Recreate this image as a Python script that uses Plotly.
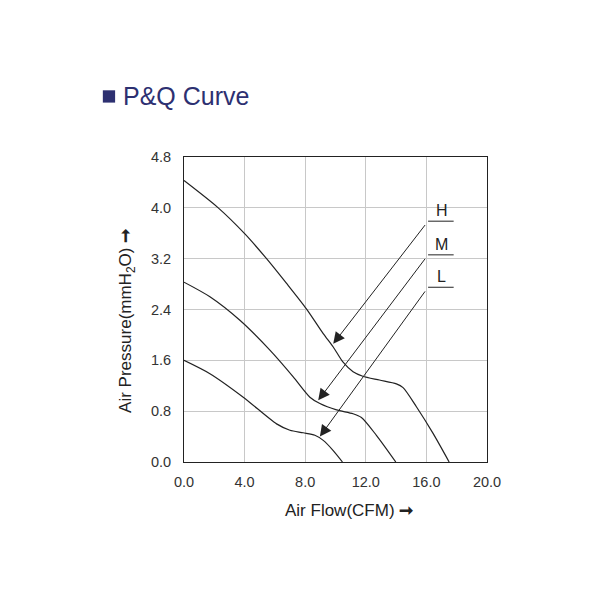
import plotly.graph_objects as go

# ---- data ----
h_x = [0.0, 2.26, 4.02, 5.45, 6.77, 8.08, 9.19, 9.85, 10.5, 11.16, 11.8, 12.9, 14.02, 14.46, 15.34, 16.44, 17.5]
h_y = [4.43, 4.00, 3.59, 3.20, 2.81, 2.41, 2.02, 1.81, 1.57, 1.42, 1.35, 1.29, 1.23, 1.17, 0.87, 0.45, 0.0]

m_x = [0.0, 1.71, 3.69, 5.67, 7.21, 8.31, 8.97, 10.07, 11.16, 11.71, 12.7, 13.98]
m_y = [2.83, 2.60, 2.23, 1.76, 1.34, 1.02, 0.92, 0.82, 0.76, 0.70, 0.42, 0.0]

l_x = [0.0, 1.71, 3.91, 6.11, 6.99, 7.87, 8.64, 9.19, 9.85, 10.46]
l_y = [1.60, 1.39, 1.02, 0.60, 0.50, 0.46, 0.42, 0.34, 0.18, 0.0]

labels = ["H", "M", "L"]
label_corner_x = [16.11, 16.11, 16.11]
label_end_x = [17.8, 17.8, 17.8]
label_y = [3.79, 3.26, 2.75]
arrow_tip_x = [9.85, 8.86, 8.97]
arrow_tip_y = [1.86, 0.97, 0.40]

x_ticks = [0, 4, 8, 12, 16, 20]
y_ticks = [0, 0.8, 1.6, 2.4, 3.2, 4.0, 4.8]

# ---- layout constants (pixels) ----
W, H = 600, 600
L, R, T, B = 184, 112.5, 156.7, 138.3
pw, ph = W - L - R, H - T - B


def px(xp):
    return (xp - L) / pw


def py(yp):
    return (H - B - yp) / ph


FONT = "Liberation Sans, Arial"

fig = go.Figure()
for xs, ys in [(h_x, h_y), (m_x, m_y), (l_x, l_y)]:
    fig.add_trace(go.Scatter(x=xs, y=ys, mode="lines",
                             line=dict(color="#222", width=1.2, shape="spline", smoothing=0.75),
                             showlegend=False, hoverinfo="skip"))

for i, lab in enumerate(labels):
    fig.add_trace(go.Scatter(x=[label_corner_x[i], label_end_x[i]], y=[label_y[i], label_y[i]], mode="lines",
                             line=dict(color="#222", width=1), showlegend=False, hoverinfo="skip"))
    fig.add_annotation(x=arrow_tip_x[i], y=arrow_tip_y[i], ax=label_corner_x[i], ay=label_y[i],
                       xref="x", yref="y", axref="x", ayref="y", showarrow=True, arrowhead=2,
                       arrowsize=2.3, arrowwidth=1, arrowcolor="#222", text=" ")
    fig.add_annotation(x=(label_corner_x[i] + label_end_x[i]) / 2 + 0.05, y=label_y[i], xref="x", yref="y",
                       text=lab, showarrow=False, yanchor="bottom", yshift=0,
                       font=dict(family=FONT, size=16, color="#222"))

# title
fig.add_shape(type="rect", xref="paper", yref="paper", x0=px(102.7), x1=px(115), y0=py(102.3), y1=py(90),
              fillcolor="#2d3071", line=dict(width=0))
fig.add_annotation(xref="paper", yref="paper", x=px(121), y=py(96), xanchor="left", yanchor="middle",
                   text="P&Q Curve", showarrow=False,
                   font=dict(family=FONT, size=25, color="#2d3071"))

# axis titles
fig.add_annotation(xref="paper", yref="paper", x=px(349), y=py(510), xanchor="center", yanchor="middle",
                   text="Air Flow(CFM) <b>➞</b>", showarrow=False,
                   font=dict(family=FONT, size=17, color="#222"))
fig.add_annotation(xref="paper", yref="paper", x=px(127.5), y=py(321), xanchor="center", yanchor="middle",
                   text="Air Pressure(mmH<sub>2</sub>O) <b>➞</b>", showarrow=False, textangle=-90,
                   font=dict(family=FONT, size=17, color="#222"))

axis_common = dict(showgrid=True, gridcolor="#c8c8c8", gridwidth=1, zeroline=False,
                   showline=True, linecolor="#222", linewidth=1, mirror=True, ticks="",
                   tickfont=dict(family=FONT, size=14.5, color="#333"),
                   tickformat=".1f")

fig.update_xaxes(range=[0, 20], tickvals=x_ticks, ticklabelstandoff=7, **axis_common)
fig.update_yaxes(range=[0, 4.8], tickvals=y_ticks, ticklabelstandoff=9, **axis_common)

fig.update_layout(width=W, height=H, margin=dict(l=L, r=R, t=T, b=B), plot_bgcolor="white",
                  paper_bgcolor="white")

fig.write_html("out.html")
